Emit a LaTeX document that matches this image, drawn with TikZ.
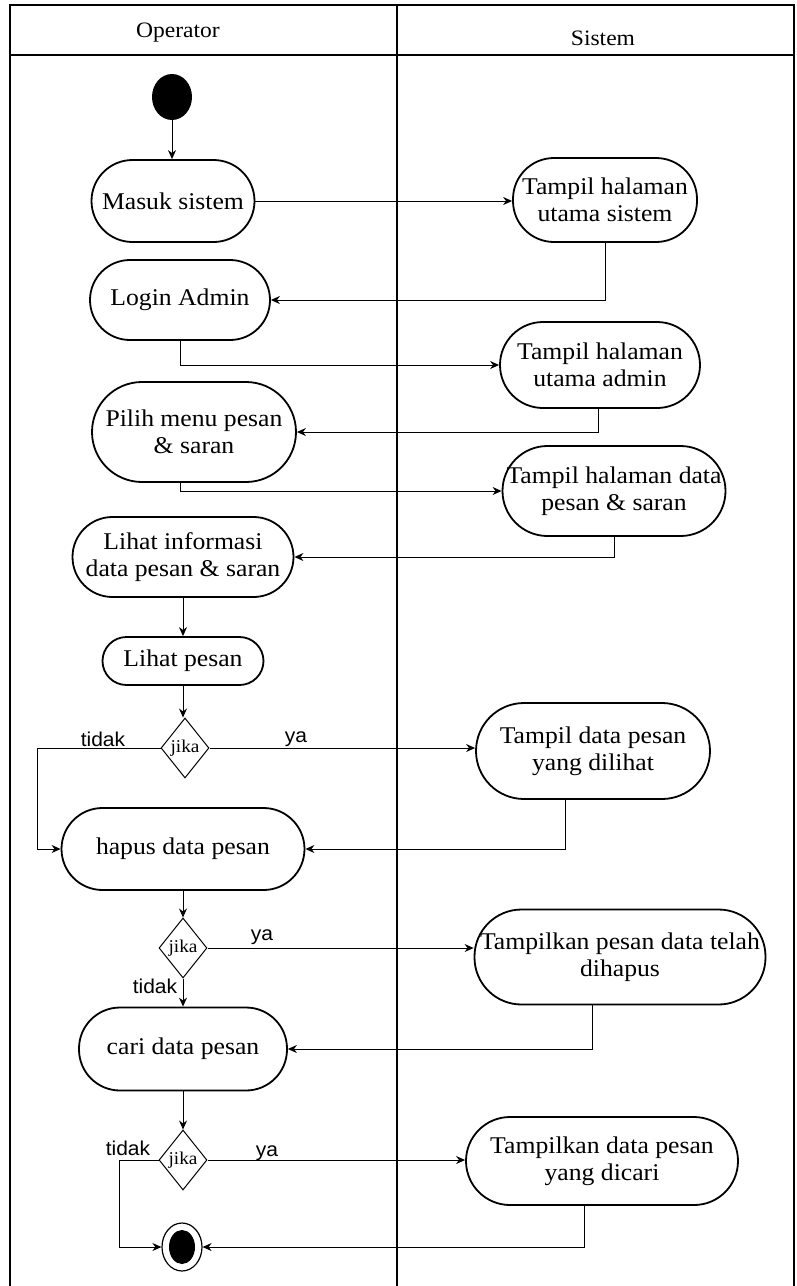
\documentclass[tikz,border=0pt]{standalone}
\usepackage{fontspec}
\setmainfont{Liberation Serif}[FakeStretch=1.07]
\newfontfamily\lblfont{Liberation Sans}[FakeStretch=1.05]
\usetikzlibrary{shapes.geometric,arrows.meta,calc}
\begin{document}
\begin{tikzpicture}[x=1pt,y=-1pt,
 act/.style={draw, line width=1.8pt, rounded corners=41pt, inner sep=0pt, align=center, font=\fontsize{24}{27}\selectfont},
 dec/.style={draw, diamond, line width=1pt, inner sep=0pt, minimum width=48pt, minimum height=60pt, font=\fontsize{18}{20}\selectfont},
 flow/.style={line width=1pt, -{Stealth[length=9pt,width=8pt]}},
 lbl/.style={font=\lblfont\fontsize{20}{22}\selectfont, inner sep=0pt},
 hdr/.style={font=\fontsize{22}{26}\selectfont, inner sep=0pt},
 frameline/.style={line width=1.2pt}]
\useasboundingbox (0,0) rectangle (796,1286);
% swimlane frame
\draw[frameline] (10,1286) -- (10,5) -- (794,5) -- (794,1286);
\draw[frameline] (10,55) -- (794,55);
\draw[frameline] (397,5) -- (397,1286);
\node[hdr] (hop) at (178,33) {Operator};
\node[hdr] (hsi) at (603,38) {Sistem};
% nodes
\node[ellipse, fill=black, minimum width=40pt, minimum height=46pt, inner sep=0pt] (start) at (172,97) {};
\node[act, minimum width=163pt, minimum height=82pt] (masuk) at (173,201) {Masuk sistem};
\node[act, minimum width=184pt, minimum height=84pt] (tus) at (605,200) {Tampil halaman\\utama sistem};
\node[act, minimum width=180pt, minimum height=80pt, rounded corners=40pt] (login) at (180,300) {Login Admin};
\node[act, minimum width=200pt, minimum height=86pt, rounded corners=43pt] (tua) at (600,365) {Tampil halaman\\utama admin};
\node[act, minimum width=204pt, minimum height=100pt, rounded corners=50pt] (pilih) at (194,432) {Pilih menu pesan\\\&  saran};
\node[act, minimum width=223pt, minimum height=90pt, rounded corners=45pt] (thd) at (614,491) {Tampil halaman data\\pesan \& saran};
\node[act, minimum width=221pt, minimum height=80pt, rounded corners=40pt] (lihat) at (183,557) {Lihat informasi\\data pesan \& saran};
\node[act, minimum width=161pt, minimum height=48pt, rounded corners=24pt] (lpesan) at (183,661) {Lihat pesan};
\node[dec] (d1) at (185,748) {jika};
\node[act, minimum width=234pt, minimum height=96pt, rounded corners=48pt] (tdl) at (593,751) {Tampil data pesan\\yang dilihat};
\node[act, minimum width=243pt, minimum height=82pt] (hapus) at (183,849) {hapus data pesan};
\node[dec] (d2) at (183,948) {jika};
\node[act, minimum width=291pt, minimum height=95pt, rounded corners=47pt] (tph) at (620,957) {Tampilkan pesan data telah\\dihapus};
\node[act, minimum width=208pt, minimum height=83pt] (cari) at (183,1049) {cari data pesan};
\node[dec] (d3) at (183,1160) {jika};
\node[act, minimum width=272pt, minimum height=88pt, rounded corners=44pt] (tdc) at (602,1161) {Tampilkan data pesan\\yang dicari};
\node[ellipse, draw, line width=1.2pt, minimum width=40pt, minimum height=48pt, inner sep=0pt] (end) at (182,1247) {};
\fill (end.center) ellipse [x radius=13pt, y radius=17pt];
% labels
\node[lbl] (l1) at (103,739) {tidak};
\node[lbl] (l2) at (296,739) {ya};
\node[lbl] (l3) at (262,937) {ya};
\node[lbl] (l4) at (155,986) {tidak};
\node[lbl] (l5) at (128,1148) {tidak};
\node[lbl] (l6) at (267,1153) {ya};
% helper coordinates
\coordinate (c1) at (37,748);
\coordinate (c2) at (119,1160);
% connectors
\draw[flow] (start.south) -- (start.south |- masuk.north);
\draw[flow] (masuk.east) -- (masuk.east -| tus.west);
\draw[flow] (tus.south) |- (login.east);
\draw[flow] (login.south) |- (tua.west);
\draw[flow] ([xshift=-2pt]tua.south) |- (pilih.east);
\draw[flow] ([xshift=-14pt]pilih.south) |- (thd.west);
\draw[flow] (thd.south) |- (lihat.east);
\draw[flow] (lihat.south) -- (lpesan.north);
\draw[flow] (lpesan.south) -- (d1.north -| lpesan.south);
\draw[flow] (d1.east) -- (d1.east -| tdl.west);
\draw[flow] (d1.west) -- (c1) |- (hapus.west);
\draw[flow] ([xshift=-28pt]tdl.south) |- (hapus.east);
\draw[flow] (hapus.south) -- (d2.north);
\draw[flow] (d2.east) -- (d2.east -| tph.west);
\draw[flow] (d2.south) -- (cari.north);
\draw[flow] ([xshift=-28pt]tph.south) |- (cari.east);
\draw[flow] (cari.south) -- (d3.north);
\draw[flow] (d3.east) -- (d3.east -| tdc.west);
\draw[flow] ([xshift=-18pt]tdc.south) |- (end.east);
\draw[flow] (d3.west) -- (c2) |- (end.west);
\end{tikzpicture}
\end{document}
